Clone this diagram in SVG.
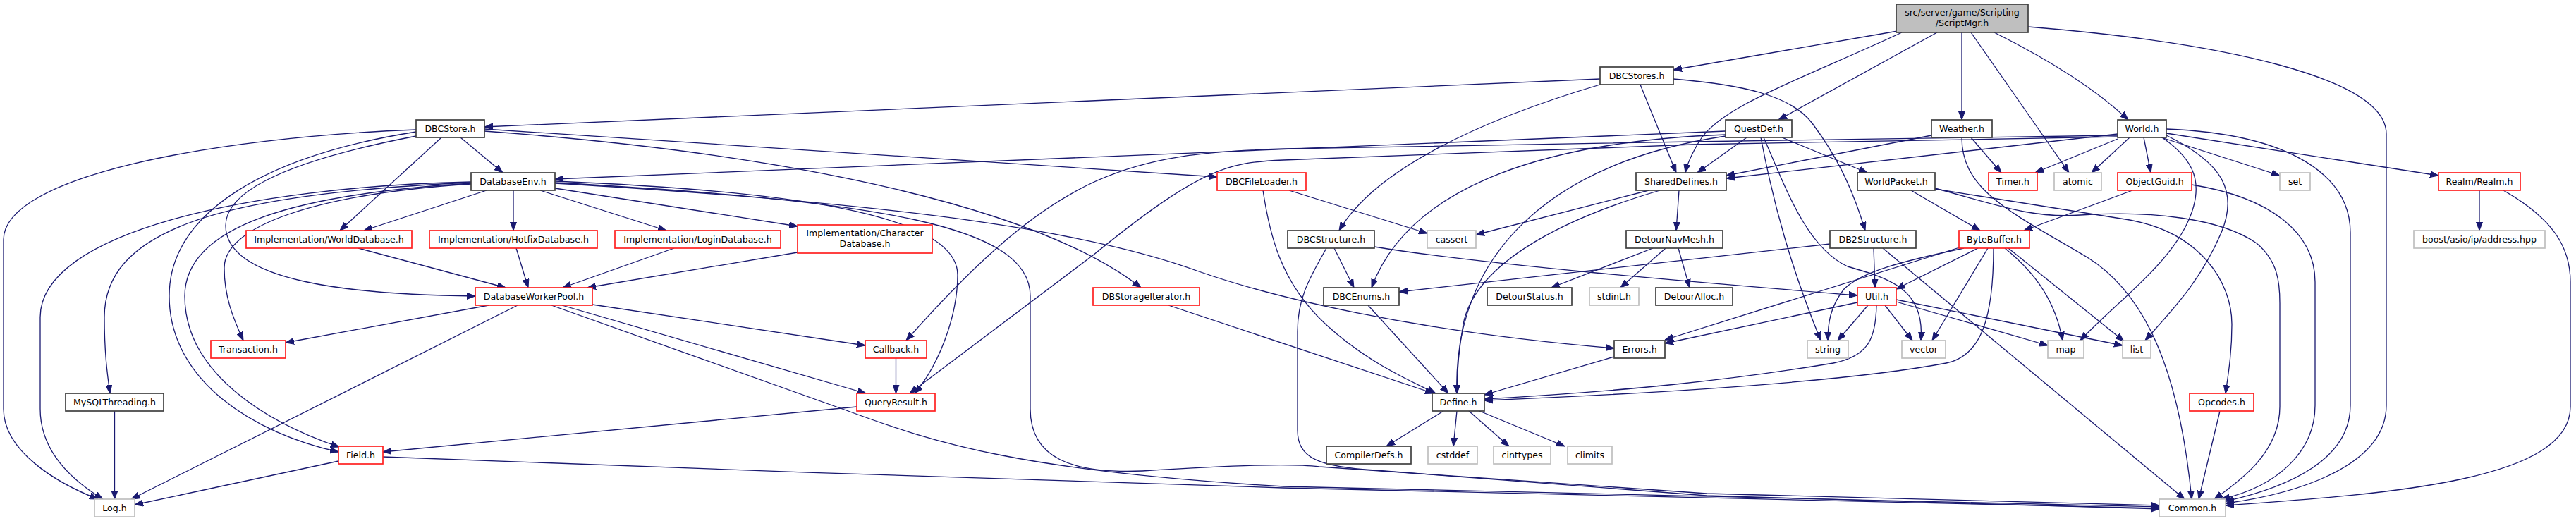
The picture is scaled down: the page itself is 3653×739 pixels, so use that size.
<svg xmlns="http://www.w3.org/2000/svg" width="3653" height="739" viewBox="0 0 3653 739">
<style>
.node rect{fill:#fff;stroke-width:1.7}
.k rect{stroke:#404040}
.r rect{stroke:#ff2020}
.g rect{stroke:#bfbfbf}
.s rect{fill:#bfbfbf;stroke:#404040}
text{font-family:"DejaVu Sans","Liberation Sans",sans-serif;font-size:12.6px;text-anchor:middle;fill:#000}
#edges path{fill:none;stroke:#191970;stroke-width:1.3;marker-end:url(#a)}
</style>
<defs>
<marker id="a" viewBox="0 0 12 10" refX="12" refY="5" markerWidth="12" markerHeight="10" markerUnits="userSpaceOnUse" orient="auto"><path d="M0,0.5L12,5L0,9.5z" fill="#191970" stroke="#191970" stroke-width="1"/></marker>
</defs>
<rect x="0" y="0" width="3653" height="739" fill="#fff"/>
<g id="edges">
<path d="M2691,44 L2373,99"/>
<path d="M2697,46 C2560,110 2440,150 2410,200 C2398,220 2392,235 2390,245"/>
<path d="M2747,46 L2522,170"/>
<path d="M2782,46 L2782,170"/>
<path d="M2795,46 L2934,245"/>
<path d="M2828,46 C2880,72 2960,115 3018,170"/>
<path d="M2876,38 C3150,60 3384,110 3384,190 L3384,575 C3384,660 3260,700 3156,714"/>
<path d="M2269,112 L687,180"/>
<path d="M2269,120 C2100,170 1950,240 1899,327"/>
<path d="M2326,120 L2377,245"/>
<path d="M2373,112 C2470,120 2540,135 2570,175 C2600,215 2625,260 2645,327"/>
<path d="M590,184 C300,195 5,250 5,340 L5,580 C5,640 80,685 139,708"/>
<path d="M590,187 C380,220 240,300 240,420 C240,540 360,615 480,641"/>
<path d="M626,195 L482,327"/>
<path d="M653,195 L713,245"/>
<path d="M590,193 C450,220 320,260 320,320 C320,400 500,418 674,420"/>
<path d="M687,183 L1726,251"/>
<path d="M687,186 C1150,220 1480,300 1618,408"/>
<path d="M690,270 L516,327"/>
<path d="M728,270 L728,327"/>
<path d="M766,270 L945,327"/>
<path d="M787,267 L1131,321"/>
<path d="M668,258 C350,265 57,330 57,450 L57,580 C57,640 100,680 146,708"/>
<path d="M668,259 C300,275 148,330 148,450 C148,500 152,530 156,558"/>
<path d="M668,260 C420,275 262,320 262,420 C262,530 380,600 481,634"/>
<path d="M668,261 C450,275 318,320 318,380 C318,420 330,450 345,483"/>
<path d="M787,257 C1100,270 1358,300 1358,390 C1358,450 1330,520 1297,558"/>
<path d="M787,259 C1250,285 1461,320 1461,420 L1461,580 C1461,650 1520,672 1620,668 C1750,660 1830,657 1871,662 L2420,700 L3062,717"/>
<path d="M787,260 C1300,290 1550,330 1700,385 C1800,420 2000,470 2289,494"/>
<path d="M508,352 L717,408"/>
<path d="M732,352 L749,408"/>
<path d="M956,352 L798,408"/>
<path d="M1131,358 L833,408"/>
<path d="M693,433 L405,486"/>
<path d="M734,433 L186,708"/>
<path d="M840,432 L1227,490"/>
<path d="M797,433 L1228,558"/>
<path d="M782,433 L1200,582 C1330,630 1450,668 1820,690 L3062,719"/>
<path d="M1270.5,508 L1270.5,558"/>
<path d="M1215,577 L543,641"/>
<path d="M480,654 L191,716"/>
<path d="M543,648 C900,660 1500,685 1820,692 L3062,721"/>
<path d="M1828,270 L2024,331"/>
<path d="M1791,270 C1800,330 1815,400 1880,460 C1940,515 2000,540 2036,558"/>
<path d="M1892,352 L1920,408"/>
<path d="M1949,350 C2100,375 2400,400 2634,419"/>
<path d="M1881,352 C1860,390 1840,420 1840,470 L1840,610 C1840,650 1870,662 1950,667 L2420,703 L3062,722"/>
<path d="M2338,270 L2093,333"/>
<path d="M2354,270 C2200,315 2090,380 2075,460 C2068,500 2066,530 2066,558"/>
<path d="M2381,270 L2377,327"/>
<path d="M2477,195 L2407,245"/>
<path d="M2527,195 L2648,245"/>
<path d="M2497,195 C2515,290 2540,380 2582,483"/>
<path d="M2501,195 C2530,260 2560,350 2620,378 C2680,395 2730,410 2724,483"/>
<path d="M2447,186 L787,254"/>
<path d="M2447,191 C2200,200 2000,260 1945,408"/>
<path d="M2447,193 C2200,230 2060,360 2066,558"/>
<path d="M2739,192 L2448,249"/>
<path d="M2795,195 L2838,245"/>
<path d="M2782,195 C2782,270 2850,300 2960,365 C3040,415 3090,520 3108,708"/>
<path d="M3003,190 L2448,253"/>
<path d="M3003,192 L2400,201 L1820,211 C1600,218 1500,240 1285,483"/>
<path d="M3003,194 L2400,205 L1820,227 C1740,230 1700,240 1550,362 L1290,558"/>
<path d="M3003,197 L2886,245"/>
<path d="M3020,195 L2966,245"/>
<path d="M3040,195 L3050,245"/>
<path d="M3065,195 L3233,249"/>
<path d="M3072,189 L3458,249"/>
<path d="M3066,195 C3110,225 3130,260 3100,320 C3070,380 3000,430 2950,483"/>
<path d="M3072,192 C3150,230 3175,270 3150,330 C3120,400 3080,440 3042,483"/>
<path d="M3072,183 C3250,190 3333,250 3333,330 L3333,575 C3333,650 3250,690 3156,711"/>
<path d="M3024,270 L2870,327"/>
<path d="M3108,262 C3220,280 3283,330 3283,400 L3283,575 C3283,640 3230,690 3150,708"/>
<path d="M3516,270 L3516,327"/>
<path d="M3550,270 C3620,310 3645,350 3645,400 L3645,577 C3645,680 3400,700 3156,717"/>
<path d="M2710,270 L2808,327"/>
<path d="M2744,268 L3020,312 C3120,330 3165,400 3165,460 C3165,500 3160,530 3156,558"/>
<path d="M2744,267 C2830,290 2880,310 2950,305 C3050,298 3150,310 3200,345 C3230,370 3233,400 3233,430 L3233,577 C3233,640 3180,680 3140,708"/>
<path d="M2782,350 L2361,482"/>
<path d="M2805,352 L2689,410"/>
<path d="M2827,352 C2827,450 2810,505 2760,515 C2600,545 2300,560 2105,568"/>
<path d="M2819,352 L2740,483"/>
<path d="M2843,352 C2890,390 2915,430 2925,483"/>
<path d="M2848,352 L3012,484"/>
<path d="M2785,352 C2700,370 2640,385 2615,410 C2595,435 2592,460 2592,483"/>
<path d="M2649,433 L2606,483"/>
<path d="M2673,433 L2712,483"/>
<path d="M2689,428 L2904,490"/>
<path d="M2689,425 L3010,490"/>
<path d="M2634,429 L2361,487"/>
<path d="M2661,433 C2660,480 2650,505 2600,515 C2450,540 2300,555 2105,566"/>
<path d="M2595,346 L1984,414"/>
<path d="M2657,352 L2659,408"/>
<path d="M2670,352 L3098,708"/>
<path d="M2344,352 L2200,408"/>
<path d="M2362,352 L2298,408"/>
<path d="M2380,352 L2396,408"/>
<path d="M1940,433 L2054,558"/>
<path d="M1657,433 L2033,558"/>
<path d="M2289,506 L2105,560"/>
<path d="M2047,583 L1966,633"/>
<path d="M2066,583 L2061,633"/>
<path d="M2083,583 L2140,633"/>
<path d="M2098,583 L2219,633"/>
<path d="M3148,583 L3118,708"/>
<path d="M162.5,583 L162.5,708"/>
</g>
<g id="n-ScriptMgr" class="node s"><rect x="2689" y="6" width="187" height="40"/><text x="2782.5" y="21.5">src/server/game/Scripting</text><text x="2782.5" y="36.5">/ScriptMgr.h</text></g>
<g id="n-DBCStores" class="node k"><rect x="2269" y="95" width="104" height="25"/><text x="2321" y="112">DBCStores.h</text></g>
<g id="n-DBCStore" class="node k"><rect x="590" y="170" width="97" height="25"/><text x="638.5" y="187">DBCStore.h</text></g>
<g id="n-QuestDef" class="node k"><rect x="2447" y="170" width="94" height="25"/><text x="2494" y="187">QuestDef.h</text></g>
<g id="n-Weather" class="node k"><rect x="2739" y="170" width="86" height="25"/><text x="2782" y="187">Weather.h</text></g>
<g id="n-World" class="node k"><rect x="3003" y="170" width="69" height="25"/><text x="3037.5" y="187">World.h</text></g>
<g id="n-DatabaseEnv" class="node k"><rect x="668" y="245" width="119" height="25"/><text x="727.5" y="262">DatabaseEnv.h</text></g>
<g id="n-DBCFileLoader" class="node r"><rect x="1726" y="245" width="126" height="25"/><text x="1789" y="262">DBCFileLoader.h</text></g>
<g id="n-SharedDefines" class="node k"><rect x="2320" y="245" width="128" height="25"/><text x="2384" y="262">SharedDefines.h</text></g>
<g id="n-WorldPacket" class="node k"><rect x="2634" y="245" width="110" height="25"/><text x="2689" y="262">WorldPacket.h</text></g>
<g id="n-Timer" class="node r"><rect x="2820" y="245" width="69" height="25"/><text x="2854.5" y="262">Timer.h</text></g>
<g id="n-atomic" class="node g"><rect x="2913" y="245" width="67" height="25"/><text x="2946.5" y="262">atomic</text></g>
<g id="n-ObjectGuid" class="node r"><rect x="3003" y="245" width="105" height="25"/><text x="3055.5" y="262">ObjectGuid.h</text></g>
<g id="n-set" class="node g"><rect x="3233" y="245" width="43" height="25"/><text x="3254.5" y="262">set</text></g>
<g id="n-Realm" class="node r"><rect x="3458" y="245" width="116" height="25"/><text x="3516" y="262">Realm/Realm.h</text></g>
<g id="n-WorldDatabase" class="node r"><rect x="349" y="327" width="235" height="25"/><text x="466.5" y="344">Implementation/WorldDatabase.h</text></g>
<g id="n-HotfixDatabase" class="node r"><rect x="609" y="327" width="238" height="25"/><text x="728" y="344">Implementation/HotfixDatabase.h</text></g>
<g id="n-LoginDatabase" class="node r"><rect x="872" y="327" width="235" height="25"/><text x="989.5" y="344">Implementation/LoginDatabase.h</text></g>
<g id="n-CharacterDatabase" class="node r"><rect x="1131" y="319" width="191" height="40"/><text x="1226.5" y="335">Implementation/Character</text><text x="1226.5" y="350">Database.h</text></g>
<g id="n-cassert" class="node g"><rect x="2024" y="327" width="69" height="25"/><text x="2058.5" y="344">cassert</text></g>
<g id="n-DBCStructure" class="node k"><rect x="1826" y="327" width="123" height="25"/><text x="1887.5" y="344">DBCStructure.h</text></g>
<g id="n-DetourNavMesh" class="node k"><rect x="2306" y="327" width="137" height="25"/><text x="2374.5" y="344">DetourNavMesh.h</text></g>
<g id="n-DB2Structure" class="node k"><rect x="2595" y="327" width="122" height="25"/><text x="2656" y="344">DB2Structure.h</text></g>
<g id="n-ByteBuffer" class="node r"><rect x="2778" y="327" width="100" height="25"/><text x="2828" y="344">ByteBuffer.h</text></g>
<g id="n-boost" class="node g"><rect x="3423" y="327" width="186" height="25"/><text x="3516" y="344">boost/asio/ip/address.hpp</text></g>
<g id="n-DatabaseWorkerPool" class="node r"><rect x="674" y="408" width="166" height="25"/><text x="757" y="425">DatabaseWorkerPool.h</text></g>
<g id="n-DBStorageIterator" class="node r"><rect x="1550" y="408" width="151" height="25"/><text x="1625.5" y="425">DBStorageIterator.h</text></g>
<g id="n-DBCEnums" class="node k"><rect x="1877" y="408" width="107" height="25"/><text x="1930.5" y="425">DBCEnums.h</text></g>
<g id="n-DetourStatus" class="node k"><rect x="2109" y="408" width="120" height="25"/><text x="2169" y="425">DetourStatus.h</text></g>
<g id="n-stdint" class="node g"><rect x="2254" y="408" width="70" height="25"/><text x="2289" y="425">stdint.h</text></g>
<g id="n-DetourAlloc" class="node k"><rect x="2348" y="408" width="109" height="25"/><text x="2402.5" y="425">DetourAlloc.h</text></g>
<g id="n-Util" class="node r"><rect x="2634" y="408" width="55" height="25"/><text x="2661.5" y="425">Util.h</text></g>
<g id="n-Transaction" class="node r"><rect x="299" y="483" width="106" height="25"/><text x="352" y="500">Transaction.h</text></g>
<g id="n-Callback" class="node r"><rect x="1227" y="483" width="87" height="25"/><text x="1270.5" y="500">Callback.h</text></g>
<g id="n-Errors" class="node k"><rect x="2289" y="483" width="72" height="25"/><text x="2325" y="500">Errors.h</text></g>
<g id="n-string" class="node g"><rect x="2563" y="483" width="58" height="25"/><text x="2592" y="500">string</text></g>
<g id="n-vector" class="node g"><rect x="2697" y="483" width="62" height="25"/><text x="2728" y="500">vector</text></g>
<g id="n-map" class="node g"><rect x="2904" y="483" width="51" height="25"/><text x="2929.5" y="500">map</text></g>
<g id="n-list" class="node g"><rect x="3010" y="483" width="40" height="25"/><text x="3030" y="500">list</text></g>
<g id="n-MySQLThreading" class="node k"><rect x="93" y="558" width="139" height="25"/><text x="162.5" y="575">MySQLThreading.h</text></g>
<g id="n-QueryResult" class="node r"><rect x="1215" y="558" width="111" height="25"/><text x="1270.5" y="575">QueryResult.h</text></g>
<g id="n-Define" class="node k"><rect x="2031" y="558" width="74" height="25"/><text x="2068" y="575">Define.h</text></g>
<g id="n-Opcodes" class="node r"><rect x="3105" y="558" width="91" height="25"/><text x="3150.5" y="575">Opcodes.h</text></g>
<g id="n-Field" class="node r"><rect x="480" y="633" width="63" height="25"/><text x="511.5" y="650">Field.h</text></g>
<g id="n-CompilerDefs" class="node k"><rect x="1881" y="633" width="120" height="25"/><text x="1941" y="650">CompilerDefs.h</text></g>
<g id="n-cstddef" class="node g"><rect x="2025" y="633" width="70" height="25"/><text x="2060" y="650">cstddef</text></g>
<g id="n-cinttypes" class="node g"><rect x="2118" y="633" width="81" height="25"/><text x="2158.5" y="650">cinttypes</text></g>
<g id="n-climits" class="node g"><rect x="2223" y="633" width="63" height="25"/><text x="2254.5" y="650">climits</text></g>
<g id="n-Log" class="node g"><rect x="134" y="708" width="57" height="25"/><text x="162.5" y="725">Log.h</text></g>
<g id="n-Common" class="node g"><rect x="3062" y="708" width="94" height="25"/><text x="3109" y="725">Common.h</text></g>
</svg>
